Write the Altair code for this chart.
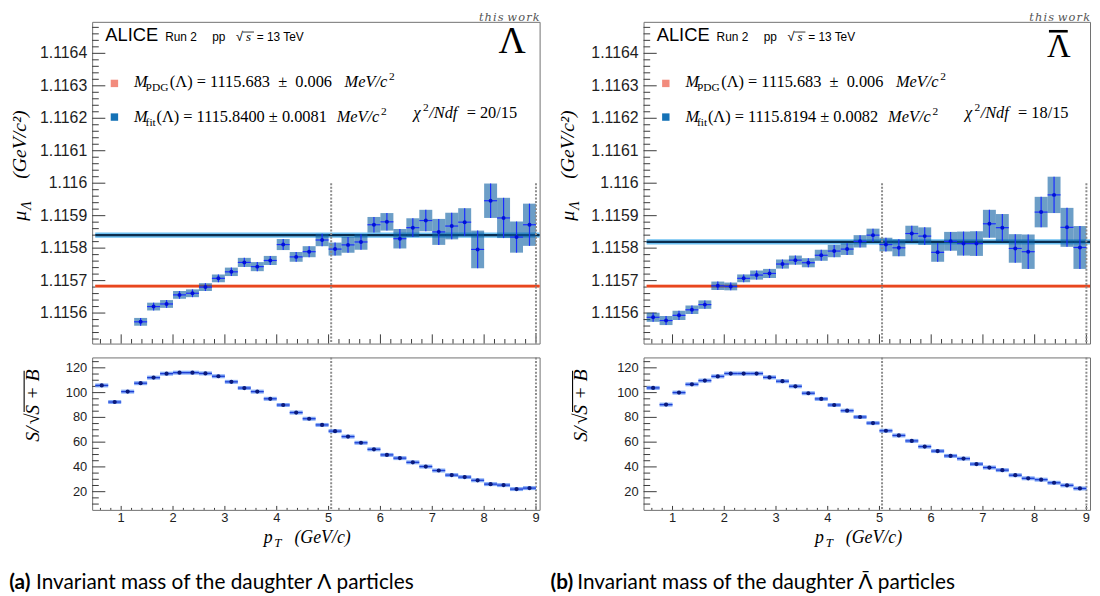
import altair as alt
import numpy as np
import pandas as pd

# ---------------- data ----------------
BIN_CENTERS = [0.625, 0.875, 1.125, 1.375, 1.625, 1.875, 2.125, 2.375, 2.625, 2.875,
               3.125, 3.375, 3.625, 3.875, 4.125, 4.375, 4.625, 4.875, 5.125, 5.375,
               5.625, 5.875, 6.125, 6.375, 6.625, 6.875, 7.125, 7.375, 7.625, 7.875,
               8.125, 8.375, 8.625, 8.875]
BIN_HALF = 0.125

# Lambda: mass points start at the 4th bin
MU_LAMBDA = [1.115573, 1.115620, 1.115628, 1.115656, 1.115661, 1.115680, 1.115707, 1.115727,
             1.115756, 1.115743, 1.115762, 1.115811, 1.115773, 1.115789, 1.115825, 1.115797,
             1.115810, 1.115819, 1.115872, 1.115881, 1.115829, 1.115863, 1.115885, 1.115850,
             1.115868, 1.115880, 1.115796, 1.115946, 1.115893, 1.115834, 1.115872]
MU_LAMBDA_ERR_E6 = [12, 12, 12, 12, 12, 12, 12, 13, 14, 14, 14, 17, 15, 17, 19, 20,
                    24, 24, 24, 27, 30, 29, 33, 40, 41, 43, 58, 53, 62, 48, 65]

MU_ALAMBDA = [1.115587, 1.115577, 1.115593, 1.115610, 1.115626, 1.115684, 1.115682, 1.115707,
              1.115717, 1.115722, 1.115751, 1.115763, 1.115755, 1.115778, 1.115791, 1.115797,
              1.115821, 1.115840, 1.115811, 1.115801, 1.115845, 1.115837, 1.115787, 1.115821,
              1.115814, 1.115814, 1.115875, 1.115863, 1.115799, 1.115789, 1.115911, 1.115964,
              1.115864, 1.115802]
MU_ALAMBDA_ERR_E6 = [14, 14, 14, 13, 13, 13, 12, 12, 14, 14, 14, 14, 14, 17, 19, 18, 19,
                     20, 21, 26, 24, 27, 29, 29, 37, 38, 43, 42, 44, 53, 47, 56, 60, 66]

SB_LAMBDA = [105.8, 92.4, 100.8, 107.6, 112.1, 115.3, 116.1, 116.1, 115.5, 113.2, 108.7, 103.7,
             100.8, 95.0, 90.0, 83.9, 78.9, 73.9, 68.9, 64.5, 59.5, 54.2, 49.7, 47.1, 43.7,
             40.3, 37.1, 33.4, 31.8, 29.2, 26.1, 25.3, 22.1, 22.9]
SB_ALAMBDA = [103.8, 90.3, 100.0, 106.7, 109.7, 113.1, 115.4, 115.4, 115.4, 112.3, 109.2, 105.1,
              99.5, 94.9, 90.0, 85.4, 80.3, 75.4, 69.2, 65.4, 61.0, 56.4, 52.8, 48.9, 46.7,
              42.3, 39.5, 37.4, 33.3, 30.8, 29.7, 27.2, 25.1, 22.6]

M_PDG, M_PDG_ERR = 1.115683, 0.000006
M_FIT_L, M_FIT_L_ERR = 1.1158400, 0.0000081
M_FIT_A, M_FIT_A_ERR = 1.1158194, 0.0000082
FIT_X_START = 0.5

X_TICKS = [1, 2, 3, 4, 5, 6, 7, 8, 9]
X_TICK_LABELS = ['1', '2', '3', '4', '5', '6', '7', '8', '9']
Y_TICKS_TOP = [1.1156, 1.1157, 1.1158, 1.1159, 1.1160, 1.1161, 1.1162, 1.1163, 1.1164]
Y_TICK_LABELS_TOP = ['1.1156', '1.1157', '1.1158', '1.1159', '1.116', '1.1161', '1.1162',
                     '1.1163', '1.1164']
Y_TICKS_BOT = [20, 40, 60, 80, 100, 120]
Y_TICK_LABELS_BOT = ['20', '40', '60', '80', '100', '120']
DASH_X = [5.05, 9.0]
DASH_TOP = 1.116
X_DOMAIN = [0.44, 9.07]
Y_DOMAIN_TOP = [1.115506, 1.116497]
Y_DOMAIN_BOT = [5.3, 128.4]

X_MINOR = [round(v, 2) for v in np.arange(0.6, 9.05, 0.2) if abs(v - round(v)) > 1e-6]
Y_MINOR_TOP = [round(v, 5) for v in np.arange(1.11552, 1.11650, 0.00002)
               if abs(v * 1e4 - round(v * 1e4)) > 1e-3]
Y_MINOR_BOT = [v for v in range(10, 128, 5) if v % 20 != 0]

# ---------------- style ----------------
SANS, SERIF, CAP = 'Liberation Sans', 'Liberation Serif', 'Lato'
FRAME, TICK, LABEL = '#707070', '#3a3a3a', '#1e1e1e'
BOX, EBAR, PT = '#0a5da2', '#1a2cff', '#0010d8'
PDG_BAND, PDG_LINE = '#f7b09f', '#e8461e'
FIT_BAND, FIT_LINE = '#6cc0f2', '#0b2e4f'
DASH = '#8c8c8c'
NB = '\u00a0'
HS = '\u200a'
W_L, W_R = 452, 451
H_TOP, H_BOT = 325, 154

xs = alt.Scale(domain=X_DOMAIN, nice=False, zero=False)
ys_top = alt.Scale(domain=Y_DOMAIN_TOP, nice=False, zero=False)
ys_bot = alt.Scale(domain=Y_DOMAIN_BOT, nice=False, zero=False)


def txt(rows, font, style='normal', weight='normal', angle=0, align='left', color='#000000'):
    df = pd.DataFrame(rows, columns=['t', 'px', 'py', 'fs'])
    mk = dict(font=font, fontStyle=style, fontWeight=weight, align=align,
              baseline='alphabetic', color=color)
    if angle:
        mk['angle'] = angle
    return alt.Chart(df).mark_text(**mk).encode(
        x=alt.X('px:Q', scale=None, axis=None),
        y=alt.Y('py:Q', scale=None, axis=None),
        text=alt.Text('t:N'),
        size=alt.Size('fs:Q', scale=None, legend=None))


def pixrule(x, y, x2=None, y2=None, width=1.0):
    enc = dict(x=alt.value(x), y=alt.value(y))
    if x2 is not None:
        enc['x2'] = alt.value(x2)
    if y2 is not None:
        enc['y2'] = alt.value(y2)
    return alt.Chart(pd.DataFrame({'a': [0]})).mark_rule(
        color='#000000', strokeWidth=width).encode(**enc)


def yticks(values, length, scale):
    return alt.Chart(pd.DataFrame({'v': values})).mark_rule(color=TICK, strokeWidth=1).encode(
        y=alt.Y('v:Q', scale=scale, axis=None), x=alt.value(0), x2=alt.value(length))


def xticks(values, length, H):
    return alt.Chart(pd.DataFrame({'v': values})).mark_rule(color=TICK, strokeWidth=1).encode(
        x=alt.X('v:Q', scale=xs, axis=None), y=alt.value(H), y2=alt.value(H - length))


def ylabels(values, labels, scale, fs):
    return alt.Chart(pd.DataFrame({'v': values, 'lab': labels})).mark_text(
        font=SANS, fontSize=fs, color=LABEL, align='right', baseline='middle').encode(
        y=alt.Y('v:Q', scale=scale, axis=None), x=alt.value(-5), text='lab:N')


def xlabels(values, labels, H, fs):
    return alt.Chart(pd.DataFrame({'v': values, 'lab': labels})).mark_text(
        font=SANS, fontSize=fs, color=LABEL, align='center', baseline='middle').encode(
        x=alt.X('v:Q', scale=xs, axis=None), y=alt.value(H + 8.3), text='lab:N')


def top_panel(centers, mu, err_e6, fit, fit_err, W, sym, sym_x, sym_y, sym_fs, bar,
              fit_label, chi_val, tdx):
    d = pd.DataFrame({'pt': centers, 'mu': mu, 'err': np.array(err_e6) * 1e-6})
    d['lo'] = d['mu'] - d['err']
    d['hi'] = d['mu'] + d['err']
    d['x0'] = d['pt'] - BIN_HALF
    d['x1'] = d['pt'] + BIN_HALF
    XF = lambda f: alt.X(f, scale=xs, axis=None)
    YF = lambda f: alt.Y(f, scale=ys_top, axis=None)

    layers = [
        yticks(Y_TICKS_TOP, 13.3, ys_top),
        yticks(Y_MINOR_TOP, 6.7, ys_top),
        xticks(X_TICKS, 9.3, H_TOP),
        xticks(X_MINOR, 4.6, H_TOP),
        ylabels(Y_TICKS_TOP, Y_TICK_LABELS_TOP, ys_top, 16),
    ]
    bands = pd.DataFrame({'x0': [FIT_X_START] * 2, 'x1': [X_DOMAIN[1]] * 2,
                          'c': [M_PDG, fit], 'e': [M_PDG_ERR, fit_err],
                          'fill': [PDG_BAND, FIT_BAND], 'line': [PDG_LINE, FIT_LINE]})
    bands['lo'] = bands['c'] - bands['e']
    bands['hi'] = bands['c'] + bands['e']
    layers.append(alt.Chart(bands).mark_rect().encode(
        x=XF('x0:Q'), x2='x1:Q', y=YF('lo:Q'), y2='hi:Q',
        color=alt.Color('fill:N', scale=None, legend=None)))
    layers.append(alt.Chart(bands).mark_rule(strokeWidth=2.3).encode(
        x=XF('x0:Q'), x2='x1:Q', y=YF('c:Q'),
        color=alt.Color('line:N', scale=None, legend=None)))
    layers.append(alt.Chart(d).mark_rect(color=BOX, opacity=0.6).encode(
        x=XF('x0:Q'), x2='x1:Q', y=YF('lo:Q'), y2='hi:Q'))
    dd = pd.DataFrame({'x': DASH_X, 'y0': [DASH_TOP] * 2, 'y1': [Y_DOMAIN_TOP[0]] * 2})
    layers.append(alt.Chart(dd).mark_rule(color=DASH, strokeWidth=2, strokeDash=[2, 1.6]).encode(
        x=XF('x:Q'), y=YF('y0:Q'), y2='y1:Q'))
    layers.append(alt.Chart(d).mark_rule(color=EBAR, strokeWidth=1.2).encode(
        x=XF('pt:Q'), y=YF('lo:Q'), y2='hi:Q'))
    layers.append(alt.Chart(d).mark_rule(color=EBAR, strokeWidth=1.2).encode(
        x=XF('x0:Q'), x2='x1:Q', y=YF('mu:Q')))
    layers.append(alt.Chart(d).mark_circle(color=PT, size=16, opacity=1).encode(
        x=XF('pt:Q'), y=YF('mu:Q')))
    # legend squares
    sq = pd.DataFrame({'px': [22.5, 22.5], 'py': [62.2, 96.2], 'c': ['#f28b7d', '#1572b6']})
    layers.append(alt.Chart(sq).mark_square(size=56, opacity=1).encode(
        x=alt.X('px:Q', scale=None, axis=None), y=alt.Y('py:Q', scale=None, axis=None),
        color=alt.Color('c:N', scale=None, legend=None)))
    # texts
    layers.append(txt([('ALICE', 13.3, 19.8, 18.5), ('Run 2', 73.8, 19.8, 12),
                       ('pp', 121.3, 19.8, 12), ('√', 145.3, 19.8, 13),
                       ('= 13 TeV', 166.3, 19.8, 12)], SANS))
    layers.append(pixrule(152.3, 10.3, x2=163.5, width=0.8))
    layers.append(txt([('s', 155.5, 19.8, 13),
                       ('M', 42.4, 65.8, 16.5), ('MeV/c', 255, 65.8, 16.5),
                       ('M', 42.4, 100.8, 16.5), ('MeV/c', 247, 100.8, 16.5),
                       ('χ', 324.7, 97.5, 16.5), ('/Ndf', 340.5, 97.5, 16.5)],
                      SERIF, style='italic'))
    layers.append(txt([('PDG', 54, 69.8, 11.5),
                       ('(Λ) = 1115.683' + NB * 2 + '±' + NB * 2 + '0.006', 78.5, 65.8, 16.5),
                       ('fit', 54, 104.8, 11.5), (fit_label, 65, 100.8, 16.5),
                       ('2', 299.8, 58.8, 11.5), ('2', 291.8, 93.8, 11.5),
                       ('2', 334.3, 90.5, 11.5),
                       (chi_val, 378.3, 97.5, 16.5)], SERIF))
    layers.append(txt([(sym, sym_x, sym_y, sym_fs)], SERIF, align='center'))
    if bar:
        layers.append(pixrule(sym_x - 10, sym_y - 26.5, x2=sym_x + 9, width=2.6))
    layers.append(txt([(HS.join('this') + ' ' + HS.join('work'), W, -1.2, 11.5)],
                      'DejaVu Serif', style='italic', align='right', color='#555555'))
    layers.append(txt([('(GeV/c²)', -67.3 + tdx, 124, 20), ('μ', -67 + tdx, 196, 20),
                       ('Λ', -62 + tdx, 185.5, 14)], SERIF, style='italic', angle=270,
                      align='center'))
    return alt.layer(*layers).properties(width=W, height=H_TOP)


def bottom_panel(sb, W, tdx, cap_label, cap_text, cap_x):
    d = pd.DataFrame({'pt': BIN_CENTERS, 'sb': sb})
    d['x0'] = d['pt'] - BIN_HALF
    d['x1'] = d['pt'] + BIN_HALF
    XF = lambda f: alt.X(f, scale=xs, axis=None)
    YF = lambda f: alt.Y(f, scale=ys_bot, axis=None)
    layers = [
        yticks(Y_TICKS_BOT, 13.3, ys_bot),
        yticks(Y_MINOR_BOT, 6.7, ys_bot),
        xticks(X_TICKS, 4.0, H_BOT),
        xticks(X_MINOR, 2.0, H_BOT),
        ylabels(Y_TICKS_BOT, Y_TICK_LABELS_BOT, ys_bot, 13),
        xlabels(X_TICKS, X_TICK_LABELS, H_BOT, 13),
    ]
    layers.append(alt.Chart(pd.DataFrame({'x': DASH_X})).mark_rule(
        color=DASH, strokeWidth=2, strokeDash=[2, 1.6]).encode(
        x=XF('x:Q'), y=alt.value(0), y2=alt.value(H_BOT)))
    layers.append(alt.Chart(d).mark_rule(color='#6f9cf5', strokeWidth=4, opacity=0.85).encode(
        x=XF('x0:Q'), x2='x1:Q', y=YF('sb:Q')))
    layers.append(alt.Chart(d).mark_rule(color='#1f3fd6', strokeWidth=1.3).encode(
        x=XF('x0:Q'), x2='x1:Q', y=YF('sb:Q')))
    layers.append(alt.Chart(d).mark_circle(color='#0a1a7a', size=18, opacity=1).encode(
        x=XF('pt:Q'), y=YF('sb:Q')))
    # y title  S/sqrt(S+B)
    layers.append(txt([('S/', -53.7 + tdx, 77.5, 20), ('√', -53.7 + tdx, 62, 20),
                       ('S' + NB + '+' + NB + 'B', -53.7 + tdx, 35, 20)], SERIF,
                      style='italic', angle=270, align='center'))
    layers.append(pixrule(-68.7 + tdx, 13.5, y2=55, width=1.1))
    # x title
    layers.append(txt([('p', 173.3, 187.5, 18), ('T', 184, 191.5, 13),
                       ('(GeV/c)', 204.3, 187.5, 18)], SERIF, style='italic'))
    # caption
    layers.append(txt([(cap_label, cap_x, 233.5, 21)], CAP, weight='bold'))
    layers.append(txt([(cap_text, cap_x + 27, 233.5, 21)], CAP))
    return alt.layer(*layers).properties(width=W, height=H_BOT)


topA = top_panel(BIN_CENTERS[3:], MU_LAMBDA, MU_LAMBDA_ERR_E6, M_FIT_L, M_FIT_L_ERR, W_L,
                 'Λ', 424.3, 31.4, 38, False, '(Λ) = 1115.8400 ± 0.0081', '= 20/15', 0)
topB = top_panel(BIN_CENTERS, MU_ALAMBDA, MU_ALAMBDA_ERR_E6, M_FIT_A, M_FIT_A_ERR, W_R,
                 'Λ', 419.5, 36, 33, True, '(Λ) = 1115.8194 ± 0.0082', '= 18/15', -3)
botA = bottom_panel(SB_LAMBDA, W_L, 0, '(a)', 'Invariant mass of the daughter Λ particles', -83.7)
botB = bottom_panel(SB_ALAMBDA, W_R, -3, '(b)', 'Invariant mass of the daughter Λ̄ particles', -94)

colA = alt.vconcat(topA, botA, spacing=10)
colB = alt.vconcat(topB, botB, spacing=10)
chart = alt.hconcat(colA, colB, spacing=8).properties(
    padding={'left': 0, 'top': 0, 'right': 0, 'bottom': 0}, background='white'
).configure_view(stroke=FRAME, strokeWidth=1)

chart.save('out.html', embed_options={'renderer': 'svg', 'actions': False})
